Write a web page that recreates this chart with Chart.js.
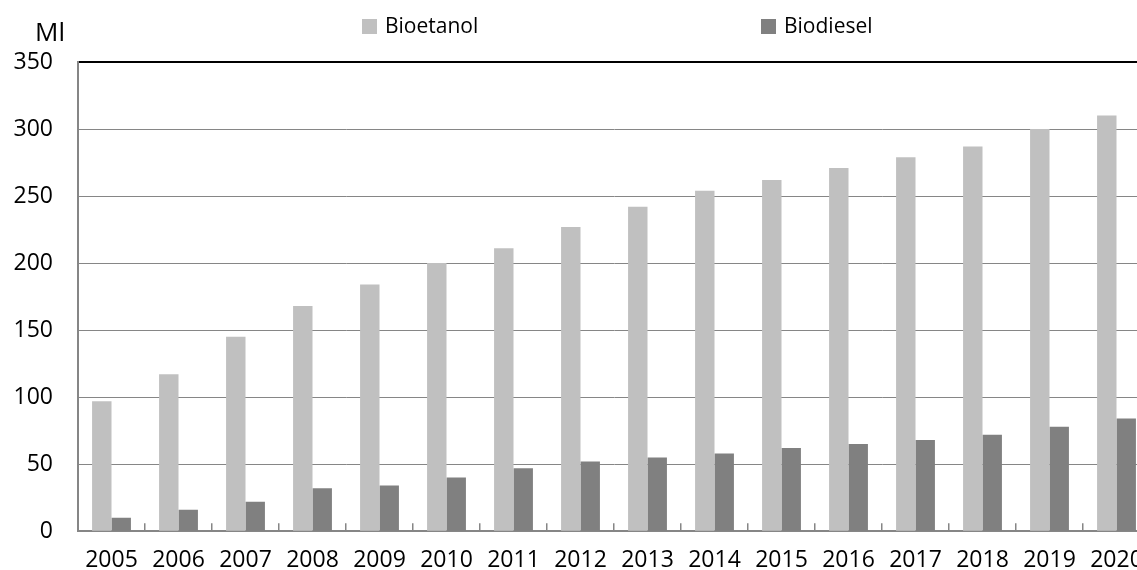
<!DOCTYPE html>
<html><head><meta charset="utf-8">
<script src="https://cdn.jsdelivr.net/npm/chart.js@4/dist/chart.umd.min.js"></script>
<style>html,body{margin:0;padding:0;overflow:hidden;background:#fff;width:1137px;height:570px}</style>
</head><body>
<canvas id="c" width="1160" height="570" style="display:block"></canvas>
<script>
const years = ['2005','2006','2007','2008','2009','2010','2011','2012','2013','2014','2015','2016','2017','2018','2019','2020'];
const bioetanol = [97,117,145,168,184,200,211,227,242,254,262,271,279,287,300,310];
const biodiesel = [10,16,22,32,34,40,47,52,55,58,62,65,68,72,78,84];
const seriesLabels = ['Bioetanol','Biodiesel'];
const unitLabel = 'Ml';
const yMin = 0, yMax = 350, yStep = 50;

Chart.defaults.font.family = '"Open Sans", sans-serif';
Chart.defaults.color = '#000';

const overlay = {
  id: 'overlay',
  afterDraw(chart) {
    const ctx = chart.ctx;
    ctx.save();
    ctx.fillStyle = '#000';
    ctx.textAlign = 'left';
    ctx.textBaseline = 'alphabetic';
    ctx.font = '26px "Open Sans"';
    ctx.fillText(unitLabel, 35, 41);
    const xs = [362, 761];
    chart.data.datasets.forEach((ds, i) => {
      ctx.fillStyle = ds.backgroundColor;
      ctx.fillRect(xs[i], 19, 15, 15);
      ctx.fillStyle = '#000';
      ctx.font = '21px "Open Sans"';
      ctx.textBaseline = 'middle';
      ctx.fillText(ds.label, xs[i] + 23, 27);
    });
    ctx.restore();
  }
};

new Chart(document.getElementById('c'), {
  type: 'bar',
  data: {
    labels: years,
    datasets: [
      { label: seriesLabels[0], data: bioetanol, backgroundColor: '#c0c0c0', borderWidth: 0, categoryPercentage: 0.58, barPercentage: 1.0 },
      { label: seriesLabels[1], data: biodiesel, backgroundColor: '#808080', borderWidth: 0, categoryPercentage: 0.58, barPercentage: 1.0 }
    ]
  },
  options: {
    responsive: false,
    animation: false,
    layout: { padding: { top: 62, right: 10, left: 0, bottom: 0 } },
    plugins: { legend: { display: false }, tooltip: { enabled: false } },
    scales: {
      x: {
        offset: true,
        afterFit(s) { s.height = 36; s.paddingLeft = 0; s.paddingRight = 0; },
        grid: { display: true, offset: true, drawOnChartArea: false, drawTicks: true, tickLength: -8, color: '#868686', lineWidth: 1.5 },
        border: { display: true, color: '#868686', width: 2 },
        ticks: { font: { size: 23 }, padding: 23, autoSkip: false, maxRotation: 0, minRotation: 0 }
      },
      y: {
        min: yMin, max: yMax,
        afterFit(s) { s.width = 78; },
        grid: {
          drawTicks: false,
          color: (c) => (c.tick && c.tick.value === yMax) ? '#000' : '#868686',
          lineWidth: (c) => (c.tick && c.tick.value === yMax) ? 2 : 1
        },
        border: { display: true, color: '#868686', width: 2 },
        ticks: { stepSize: yStep, font: { size: 23 }, padding: 25 }
      }
    }
  },
  plugins: [overlay]
});
</script>
</body></html>
